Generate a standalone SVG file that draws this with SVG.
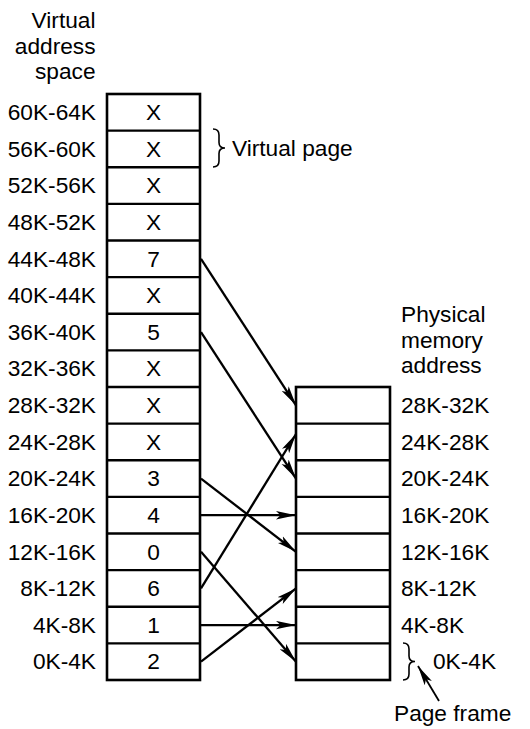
<svg xmlns="http://www.w3.org/2000/svg" width="530" height="729" viewBox="0 0 530 729">
<style>
text{font-family:"Liberation Sans",Arial,sans-serif;font-size:22.7px;fill:#000}
.r{text-anchor:end}
.c{text-anchor:middle}
.box{fill:#fff;stroke:#000;stroke-width:2.6}
.ln{stroke:#000;stroke-width:2.3;fill:none}
.br{stroke:#000;stroke-width:1.6;fill:none}
</style>
<defs>
<marker id="ah" viewBox="0 0 20 9" refX="20" refY="4.5" markerWidth="20" markerHeight="9" markerUnits="userSpaceOnUse" orient="auto">
<path d="M0,0.3 L20,4.5 L0,8.7 L4.5,4.5 z" fill="#000"/>
</marker>
</defs>
<rect width="530" height="729" fill="#fff"/>
<g id="title-virtual">
<text class="r" x="95.5" y="28">Virtual</text>
<text class="r" x="95.5" y="53.5">address</text>
<text class="r" x="95.5" y="79">space</text>
</g>
<g id="title-physical">
<text x="401" y="322">Physical</text>
<text x="401" y="347.5">memory</text>
<text x="401" y="373">address</text>
</g>
<g id="virtual-space">
<rect class="box" x="107" y="94" width="93" height="586"/>
<g class="ln">
<line x1="107" y1="130.63" x2="200" y2="130.63"/>
<line x1="107" y1="167.25" x2="200" y2="167.25"/>
<line x1="107" y1="203.88" x2="200" y2="203.88"/>
<line x1="107" y1="240.5" x2="200" y2="240.5"/>
<line x1="107" y1="277.13" x2="200" y2="277.13"/>
<line x1="107" y1="313.75" x2="200" y2="313.75"/>
<line x1="107" y1="350.38" x2="200" y2="350.38"/>
<line x1="107" y1="387" x2="200" y2="387"/>
<line x1="107" y1="423.63" x2="200" y2="423.63"/>
<line x1="107" y1="460.25" x2="200" y2="460.25"/>
<line x1="107" y1="496.88" x2="200" y2="496.88"/>
<line x1="107" y1="533.5" x2="200" y2="533.5"/>
<line x1="107" y1="570.13" x2="200" y2="570.13"/>
<line x1="107" y1="606.75" x2="200" y2="606.75"/>
<line x1="107" y1="643.38" x2="200" y2="643.38"/>
</g>
<text class="r" x="96" y="120">60K-64K</text><text class="c" x="153.5" y="120">X</text>
<text class="r" x="96" y="156.6">56K-60K</text><text class="c" x="153.5" y="156.6">X</text>
<text class="r" x="96" y="193.2">52K-56K</text><text class="c" x="153.5" y="193.2">X</text>
<text class="r" x="96" y="229.9">48K-52K</text><text class="c" x="153.5" y="229.9">X</text>
<text class="r" x="96" y="266.5">44K-48K</text><text class="c" x="153.5" y="266.5">7</text>
<text class="r" x="96" y="303.1">40K-44K</text><text class="c" x="153.5" y="303.1">X</text>
<text class="r" x="96" y="339.8">36K-40K</text><text class="c" x="153.5" y="339.8">5</text>
<text class="r" x="96" y="376.4">32K-36K</text><text class="c" x="153.5" y="376.4">X</text>
<text class="r" x="96" y="413">28K-32K</text><text class="c" x="153.5" y="413">X</text>
<text class="r" x="96" y="449.6">24K-28K</text><text class="c" x="153.5" y="449.6">X</text>
<text class="r" x="96" y="486.3">20K-24K</text><text class="c" x="153.5" y="486.3">3</text>
<text class="r" x="96" y="522.9">16K-20K</text><text class="c" x="153.5" y="522.9">4</text>
<text class="r" x="96" y="559.5">12K-16K</text><text class="c" x="153.5" y="559.5">0</text>
<text class="r" x="96" y="596.1">8K-12K</text><text class="c" x="153.5" y="596.1">6</text>
<text class="r" x="96" y="632.8">4K-8K</text><text class="c" x="153.5" y="632.8">1</text>
<text class="r" x="96" y="669.4">0K-4K</text><text class="c" x="153.5" y="669.4">2</text>
</g>
<g id="physical-memory">
<rect class="box" x="296" y="387" width="94" height="293"/>
<g class="ln">
<line x1="296" y1="423.63" x2="390" y2="423.63"/>
<line x1="296" y1="460.25" x2="390" y2="460.25"/>
<line x1="296" y1="496.88" x2="390" y2="496.88"/>
<line x1="296" y1="533.5" x2="390" y2="533.5"/>
<line x1="296" y1="570.13" x2="390" y2="570.13"/>
<line x1="296" y1="606.75" x2="390" y2="606.75"/>
<line x1="296" y1="643.38" x2="390" y2="643.38"/>
</g>
<text x="401" y="413">28K-32K</text>
<text x="401" y="449.6">24K-28K</text>
<text x="401" y="486.3">20K-24K</text>
<text x="401" y="522.9">16K-20K</text>
<text x="401" y="559.5">12K-16K</text>
<text x="401" y="596.1">8K-12K</text>
<text x="401" y="632.8">4K-8K</text>
</g>
<g id="virtual-page-label">
<path class="br" d="M213,129 Q219,129 219,135 L219,142.5 Q219,148 225,148 Q219,148 219,153.5 L219,161 Q219,167 213,167"/>
<text x="232" y="155.5">Virtual page</text>
</g>
<g id="page-frame-label">
<path class="br" d="M403,643 Q409,643 409,649 L409,656 Q409,661.5 415,661.5 Q409,661.5 409,667 L409,674 Q409,680 403,680"/>
<text x="433" y="668.5">0K-4K</text>
<line class="ln" x1="439" y1="701" x2="418" y2="666" marker-end="url(#ah)" style="stroke-width:1.8"/>
<text x="394" y="721">Page frame</text>
</g>
<g id="connectors" class="ln">
<line x1="201" y1="258.8" x2="296" y2="405.3" marker-end="url(#ah)"/>
<line x1="201" y1="332.1" x2="296" y2="478.6" marker-end="url(#ah)"/>
<line x1="201" y1="478.6" x2="296" y2="551.8" marker-end="url(#ah)"/>
<line x1="201" y1="515.2" x2="296" y2="515.2" marker-end="url(#ah)"/>
<line x1="201" y1="551.8" x2="296" y2="661.7" marker-end="url(#ah)"/>
<line x1="201" y1="588.4" x2="296" y2="434" marker-end="url(#ah)"/>
<line x1="201" y1="625.1" x2="296" y2="625.1" marker-end="url(#ah)"/>
<line x1="201" y1="661.7" x2="296" y2="588.4" marker-end="url(#ah)"/>
</g>
</svg>
